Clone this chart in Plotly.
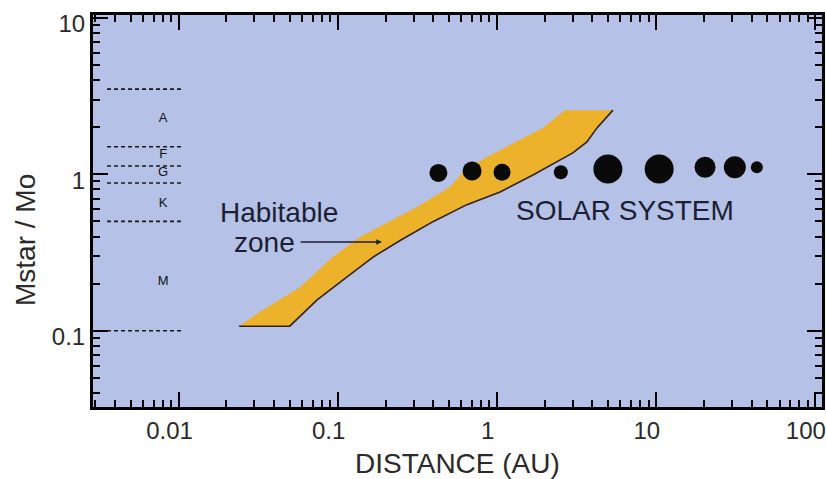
import numpy as np
import plotly.graph_objects as go

# ---- data ----
planet_names = ["Mercury", "Venus", "Earth", "Mars", "Jupiter", "Saturn", "Uranus", "Neptune", "Pluto"]
planet_dist = [0.43, 0.70, 1.08, 2.53, 5.0, 10.5, 20.4, 31.4, 43.2]
planet_mass = [1.02, 1.05, 1.03, 1.03, 1.08, 1.08, 1.11, 1.11, 1.11]
planet_size = [18, 19, 17, 14, 29, 29, 21, 22, 12]

# habitable zone outline (distance AU, stellar mass)
hz_x = [0.024, 0.0316, 0.058, 0.093, 0.138, 0.204, 0.315, 0.508, 0.65, 1.21, 1.95, 2.68, 5.38,
        4.27, 3.69, 3.01, 1.69, 1.05, 0.65, 0.40, 0.25, 0.167, 0.114, 0.074, 0.050]
hz_y = [0.107, 0.130, 0.19, 0.296, 0.397, 0.488, 0.618, 0.83, 1.10, 1.54, 1.98, 2.57, 2.57,
        1.98, 1.61, 1.37, 0.99, 0.77, 0.64, 0.50, 0.38, 0.296, 0.22, 0.157, 0.107]

# spectral class boundaries (stellar mass) and labels
class_bounds = [3.5, 1.5, 1.13, 0.88, 0.5, 0.1]
class_x = [0.00355, 0.0107]
class_labels = ["A", "F", "G", "K", "M"]
class_label_mass = [2.26, 1.33, 1.02, 0.65, 0.205]
class_label_x = 0.0080

fig = go.Figure()

# habitable zone fill
fig.add_trace(go.Scatter(x=hz_x + [hz_x[0]], y=hz_y + [hz_y[0]], mode="lines", fill="toself",
                         fillcolor="rgb(236,178,44)", line=dict(width=0), hoverinfo="skip",
                         showlegend=False))
# dark lower edge of the band
edge_x = hz_x[12:] + [hz_x[0]]
edge_y = hz_y[12:] + [hz_y[0]]
fig.add_trace(go.Scatter(x=edge_x, y=edge_y, mode="lines",
                         line=dict(color="rgb(50,35,20)", width=1.6), hoverinfo="skip",
                         showlegend=False))

# spectral class dashed lines
for m in class_bounds:
    fig.add_trace(go.Scatter(x=class_x, y=[m, m], mode="lines",
                             line=dict(color="#1a1a1a", width=1.6, dash="4px,3px"),
                             hoverinfo="skip", showlegend=False))
fig.add_trace(go.Scatter(x=[class_label_x] * len(class_labels), y=class_label_mass, mode="text",
                         text=class_labels, textfont=dict(family="Liberation Sans, Arial", size=13,
                                                          color="#111111"),
                         hoverinfo="skip", showlegend=False))

# planets
fig.add_trace(go.Scatter(x=planet_dist, y=planet_mass, mode="markers", text=planet_names,
                         marker=dict(color="#0a0a0a", size=planet_size, opacity=1,
                                     line=dict(width=0)),
                         opacity=1, showlegend=False))

axis_common = dict(type="log", dtick=1, showline=True, linecolor="black", linewidth=3,
                   mirror="allticks", ticks="inside", ticklen=15, tickwidth=2, tickcolor="black",
                   showgrid=False, zeroline=False, ticklabeloverflow="allow", automargin=False,
                   minor=dict(ticks="inside", ticklen=7, tickwidth=1.5, tickcolor="black",
                              showgrid=False),
                   tickfont=dict(family="Liberation Sans, Arial", size=24, color="#2a2a2a"))

fig.update_xaxes(range=[-2.538, 2.045], ticklabelshift=-9, **axis_common)
fig.update_yaxes(range=[-1.487, 1.018], ticklabelshift=6, **axis_common)

txt_font = dict(family="Liberation Sans, Arial", size=28, color="#1c1f33")
fig.update_layout(
    width=826, height=479,
    margin=dict(l=93, r=4, t=15, b=72, autoexpand=False),
    plot_bgcolor="rgb(181,193,230)",
    paper_bgcolor="white",
    annotations=[
        dict(text="DISTANCE (AU)", xref="paper", yref="paper", x=0.5, y=-0.143,
             showarrow=False, xanchor="center", yanchor="middle",
             font=dict(family="Liberation Sans, Arial", size=28, color="#2a2a2a")),
        dict(text="Mstar / Mo", xref="paper", yref="paper", x=-0.0933, y=0.426, textangle=-90,
             showarrow=False, xanchor="center", yanchor="middle",
             font=dict(family="Liberation Sans, Arial", size=28, color="#2a2a2a")),
        dict(text="SOLAR SYSTEM", xref="x", yref="y", x=np.log10(6.4), y=np.log10(0.59),
             showarrow=False, xanchor="center", yanchor="middle", font=txt_font),
        dict(text="Habitable", xref="x", yref="y", x=np.log10(0.0428), y=np.log10(0.566),
             showarrow=False, xanchor="center", yanchor="middle", font=txt_font),
        dict(text="zone", xref="x", yref="y", x=np.log10(0.0555), y=np.log10(0.364),
             showarrow=False, xanchor="right", yanchor="middle", font=txt_font),
        dict(text="", xref="x", yref="y", x=-0.7216, y=-0.4326, axref="x", ayref="y",
             ax=-1.2417, ay=-0.4326, showarrow=True, arrowhead=2, arrowsize=0.8,
             arrowwidth=1.4, arrowcolor="#1c1f33"),
    ],
)

# remove the page's default body margin so the 826x479 figure fills the window exactly
fig.write_html("out.html", config={"displayModeBar": False},
               post_script="document.body.style.margin='0';"
                           "document.documentElement.style.overflow='hidden';")
